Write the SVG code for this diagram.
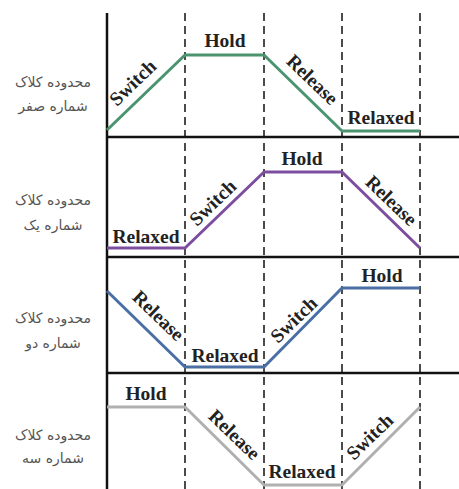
<svg xmlns="http://www.w3.org/2000/svg" width="459" height="489" viewBox="0 0 459 489">
<style>
.axis{stroke:#111;stroke-width:2.5;fill:none}
.sep{stroke:#111;stroke-width:2.5;fill:none}
.dash{stroke:#111;stroke-width:1.5;stroke-dasharray:8,5;fill:none}
.sig{fill:none;stroke-width:3;stroke-linejoin:round}
.lbl{font-family:"Liberation Serif",serif;font-weight:bold;font-size:19.5px;fill:#222;text-anchor:middle}
.fa{font-family:"DejaVu Sans",sans-serif;font-size:14px;fill:#555;text-anchor:middle}
</style>
<rect width="459" height="489" fill="#fff"/>
<g id="grid">
<line class="dash" x1="185" y1="13" x2="185" y2="489"/>
<line class="dash" x1="264" y1="13" x2="264" y2="489"/>
<line class="dash" x1="342" y1="13" x2="342" y2="489"/>
<line class="dash" x1="420" y1="13" x2="420" y2="489"/>
<line class="sep" x1="107" y1="137" x2="459" y2="137"/>
<line class="sep" x1="107" y1="257" x2="459" y2="257"/>
<line class="sep" x1="107" y1="373" x2="459" y2="373"/>
<line class="axis" x1="107" y1="13" x2="107" y2="489"/>
</g>
<g id="row0">
<text class="fa" x="53" y="87">محدوده کلاک</text>
<text class="fa" x="53" y="111">شماره صفر</text>
<polyline class="sig" stroke="#4a9470" points="107,130 185,55 264,55 342,131 420,131"/>
<text class="lbl" transform="translate(133,83) rotate(-44)" y="6">Switch</text>
<text class="lbl" x="225" y="47">Hold</text>
<text class="lbl" transform="translate(312,80) rotate(44)" y="6">Release</text>
<text class="lbl" x="381" y="124">Relaxed</text>
</g>
<g id="row1">
<text class="fa" x="53" y="205">محدوده کلاک</text>
<text class="fa" x="53" y="230">شماره یک</text>
<polyline class="sig" stroke="#7d4ea0" points="107,248 185,248 264,172 342,172 420,248"/>
<text class="lbl" x="146" y="243">Relaxed</text>
<text class="lbl" transform="translate(213,203) rotate(-44)" y="6">Switch</text>
<text class="lbl" x="302" y="165">Hold</text>
<text class="lbl" transform="translate(391,201) rotate(44)" y="6">Release</text>
</g>
<g id="row2">
<text class="fa" x="53" y="323">محدوده کلاک</text>
<text class="fa" x="53" y="348">شماره دو</text>
<polyline class="sig" stroke="#4a6fa5" points="107,291 185,367 264,367 342,288 420,288"/>
<text class="lbl" transform="translate(158,316) rotate(44)" y="6">Release</text>
<text class="lbl" x="225" y="362">Relaxed</text>
<text class="lbl" transform="translate(294,320) rotate(-44)" y="6">Switch</text>
<text class="lbl" x="382" y="282">Hold</text>
</g>
<g id="row3">
<text class="fa" x="53" y="440">محدوده کلاک</text>
<text class="fa" x="53" y="463">شماره سه</text>
<polyline class="sig" stroke="#b0b0b0" points="107,407 185,407 264,485 342,485 420,407"/>
<text class="lbl" x="146" y="400">Hold</text>
<text class="lbl" transform="translate(234,435) rotate(44)" y="6">Release</text>
<text class="lbl" x="302" y="478">Relaxed</text>
<text class="lbl" transform="translate(370,437) rotate(-44)" y="6">Switch</text>
</g>
</svg>
